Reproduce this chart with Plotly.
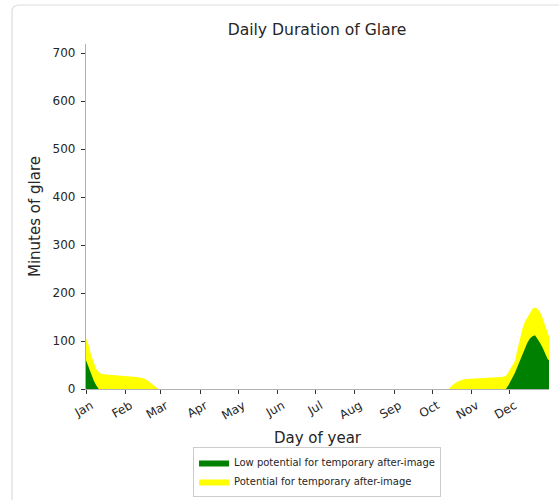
import plotly.graph_objects as go

# Day-of-year sample points
days = [0, 2, 4, 6, 8, 10, 11, 14, 20, 30, 40, 46, 50, 54, 57,
        286, 288, 292, 296, 300, 310, 320, 328, 331, 333, 336, 338, 341, 344,
        346, 348, 350, 352, 354, 356, 358, 360, 362, 364, 365]
# Total minutes of glare (top of yellow area)
total_minutes = [106, 92, 71, 54, 42, 36, 33, 31, 30, 27, 25, 22, 15, 7, 0,
                 0, 6, 14, 19, 21, 23, 24, 25, 27, 35, 48, 58, 92, 125,
                 140, 150, 160, 167, 170, 167, 160, 148, 132, 115, 110]
# Low potential for temporary after-image (green)
low_minutes = [60, 45, 30, 18, 8, 0, 0, 0, 0, 0, 0, 0, 0, 0, 0,
               0, 0, 0, 0, 0, 0, 0, 0, 0, 8, 22, 33, 52, 72,
               87, 97, 105, 110, 112, 105, 96, 86, 74, 62, 60]

month_ticks = [0, 31, 59, 90, 120, 151, 181, 212, 243, 273, 304, 334]
month_labels = ["Jan", "Feb", "Mar", "Apr", "May", "Jun", "Jul", "Aug",
                "Sep", "Oct", "Nov", "Dec"]
y_ticks = [0, 100, 200, 300, 400, 500, 600, 700]

FONT = "DejaVu Sans"
TXT = "#262626"

fig = go.Figure()
fig.add_trace(go.Scatter(
    x=days, y=total_minutes, mode="lines", fill="tozeroy",
    line=dict(width=0, color="#ffff00"), fillcolor="#ffff00",
    name="Potential for temporary after-image"))
fig.add_trace(go.Scatter(
    x=days, y=low_minutes, mode="lines", fill="tozeroy",
    line=dict(width=0, color="#008000"), fillcolor="#008000",
    name="Low potential for temporary after-image"))

L, R, T, B = 86, 10, 44, 111
W, H = 559, 500
pw, ph = W - L - R, H - T - B

def px(xp):
    return (xp - L) / pw

def py(yp):
    return (H - B - yp) / ph

# outer rounded frame (left and top edges visible)
x0, y0 = px(12), py(5)
xr, yb = px(580), py(520)
rx, ry = 7 / pw, 7 / ph
path = (f"M {x0},{yb} L {x0},{y0 - ry} Q {x0},{y0} {x0 + rx},{y0} L {xr},{y0}")

fig.update_layout(
    width=W, height=H,
    margin=dict(l=L, r=R, t=T, b=B, autoexpand=False),
    paper_bgcolor="white", plot_bgcolor="white",
    font=dict(family=FONT, color=TXT, size=11),
    title=dict(text="Daily Duration of Glare", x=317 / W, xanchor="center",
               y=1 - 30 / H, yanchor="middle",
               font=dict(size=15.6, family=FONT, color=TXT)),
    showlegend=True,
    legend=dict(x=0.499, xanchor="center", y=py(447), yanchor="top",
                bordercolor="#cccccc", borderwidth=1, traceorder="reversed",
                font=dict(size=10, family=FONT, color=TXT),
                bgcolor="white", tracegroupgap=0, itemwidth=30),
    shapes=[dict(type="path", path=path, xref="paper", yref="paper",
                 line=dict(color="#dddddd", width=1.2))],
)
fig.update_xaxes(
    range=[0, 365], tickmode="array", tickvals=month_ticks, ticktext=month_labels,
    tickangle=-30, ticks="outside", ticklen=4, tickcolor="#333", automargin=False,
    ticklabelshift=5,
    showline=True, linecolor="#b0b0b0", linewidth=1.2, showgrid=False,
    zeroline=False, tickfont=dict(size=12, family=FONT, color=TXT),
    title=dict(text="Day of year", font=dict(size=15, family=FONT, color=TXT),
               standoff=10))
fig.update_yaxes(
    range=[0, 719], tickmode="array", tickvals=y_ticks, automargin=False,
    ticks="outside", ticklen=4, tickcolor="#333", ticklabelstandoff=3,
    showline=True, linecolor="#b0b0b0", linewidth=1.2, showgrid=False,
    zeroline=False, tickfont=dict(size=12, family=FONT, color=TXT),
    title=dict(text="Minutes of glare", font=dict(size=15, family=FONT, color=TXT),
               standoff=8))

fig.write_html("out.html", config={"displayModeBar": False},
               post_script="document.body.style.margin='0';"
                           "document.body.style.overflow='hidden';")
